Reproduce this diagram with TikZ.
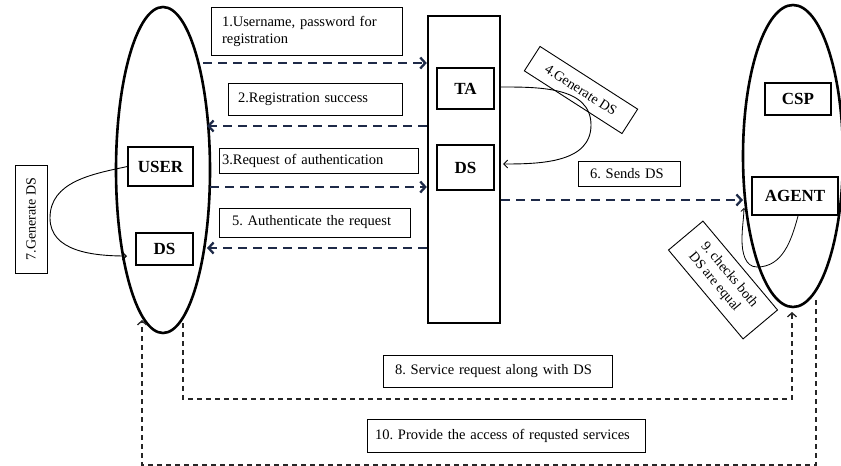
\documentclass[tikz,border=0pt]{standalone}
\usepackage{fontspec}
\setmainfont{Liberation Serif}
\usetikzlibrary{arrows.meta,shapes.geometric}
\definecolor{navy}{HTML}{1E2A48}
\frenchspacing
\begin{document}
\begin{tikzpicture}[x=1pt,y=-1pt,
  lb/.style={draw, line width=0.9pt, font=\fontsize{14.5}{17}\selectfont, align=left, inner ysep=0pt},
  rl/.style={draw, line width=0.9pt, font=\fontsize{14}{16}\selectfont, align=center, inner sep=0pt},
  bx/.style={draw, line width=1.1pt, font=\fontsize{17}{20}\selectfont\bfseries, inner sep=0pt},
  nv/.style={draw=navy, line width=2.3pt, dash pattern=on 9pt off 6pt, -{Straight Barb[length=5pt,width=11pt]}},
  thd/.style={draw=black!85, line width=1.3pt, dash pattern=on 5pt off 4pt, -{Straight Barb[length=4pt,width=9pt]}},
  cv/.style={line width=0.9pt, -{Straight Barb[length=4pt,width=8pt]}}]
\useasboundingbox (0,0) rectangle (841,466);
% containers
\node[draw, ellipse, line width=2.6pt, minimum width=94pt, minimum height=326pt, inner sep=0pt] (uell) at (163,170) {};
\node[draw, ellipse, line width=2.6pt, minimum width=100pt, minimum height=302pt, inner sep=0pt] (cell) at (793,156) {};
\node[draw, line width=2.4pt, minimum width=72pt, minimum height=307pt, inner sep=0pt] (bar) at (464,169.5) {};
% inner boxes
\node[bx, minimum width=57pt, minimum height=41pt] (ta) at (465.5,88.5) {TA};
\node[bx, minimum width=57pt, minimum height=45pt] (mds) at (465.5,167.5) {DS};
\node[bx, minimum width=65pt, minimum height=39pt] (usr) at (160.5,166.5) {USER};
\node[bx, minimum width=57pt, minimum height=32pt] (uds) at (164.5,249) {DS};
\node[bx, minimum width=66pt, minimum height=32pt] (csp) at (798,99) {CSP};
\node[bx, minimum width=86pt, minimum height=38pt] (agent) at (795,196) {AGENT};
% labels
\node[lb, minimum height=48pt, inner xsep=11pt, text width=169pt] (l1) at (306.5,31) {1.Username, password for\\registration};
\node[lb, minimum height=32pt, inner xsep=10pt, text width=154pt] (l2) at (315,99) {2.Registration success};
\node[lb, minimum height=25pt, inner xsep=3pt, text width=193pt] (l3) at (318.5,160.5) {3.Request of authentication};
\node[lb, minimum height=29pt, inner xsep=13pt, text width=165pt] (l5) at (314.5,222.5) {5. Authenticate the request};
\node[lb, minimum height=25pt, inner xsep=12pt, text width=78pt] (l6) at (629,173.5) {6. Sends DS};
\node[lb, minimum height=32pt, inner xsep=12pt, text width=205pt] (l8) at (497.5,371) {8. Service request along with DS};
\node[lb, minimum height=33pt, inner xsep=8pt, text width=262pt] (l10) at (506,435.5) {10. Provide the access of requsted services};
\node[rl, rotate=-32.7, minimum width=116pt, minimum height=29pt] (l4) at (581,90) {4.Generate DS};
\node[rl, rotate=-50, minimum width=116pt, minimum height=45pt, align=left] (l9) at (723,280) {9. checks both\\DS are equal};
\node[rl, rotate=90, minimum width=108pt, minimum height=32pt] (l7) at (31,219) {7.Generate DS};
% coordinates
\coordinate (u1) at (203,63);
\coordinate (u2) at (207,126);
\coordinate (u3) at (210,187);
\coordinate (u5) at (207,248);
\coordinate (c6) at (743,200);
\coordinate (u8) at (183,323);
\coordinate (c8) at (792,312);
\coordinate (c10) at (816,300);
\coordinate (u10) at (142,320);
\coordinate (t4s) at (500,87);
\coordinate (t4m) at (591,125);
\coordinate (t4e) at (503,164);
\coordinate (u7m) at (50,218);
\coordinate (u7e) at (127,256);
\coordinate (a9s) at (798,216);
\coordinate (a9b) at (757,267);
\coordinate (a9l) at (742,240);
\coordinate (a9e) at (744,208);
% connectors
\draw[nv] (u1) -- (u1 -| bar.west);
\draw[nv] (u2 -| bar.west) -- (u2);
\draw[nv] (u3) -- (u3 -| bar.west);
\draw[nv] (u5 -| bar.west) -- (u5);
\draw[nv] (c6 -| bar.east) -- (c6);
\draw[thd] (u8) -- ++(0,76) -| (c8);
\draw[thd] (c10) -- ++(0,165) -| (u10);
\draw[cv] (t4s) to[out=0,in=90] (t4m) to[out=-90,in=0] (t4e);
\draw[cv] (usr.west) to[out=192,in=90] (u7m) to[out=-90,in=180] (u7e);
\draw[line width=0.8pt, -{Straight Barb[length=3pt,width=6pt]}] (a9s) to[out=-105,in=0] (a9b) to[out=180,in=-90] (a9l) to[out=90,in=-92] (a9e);
\end{tikzpicture}
\end{document}
